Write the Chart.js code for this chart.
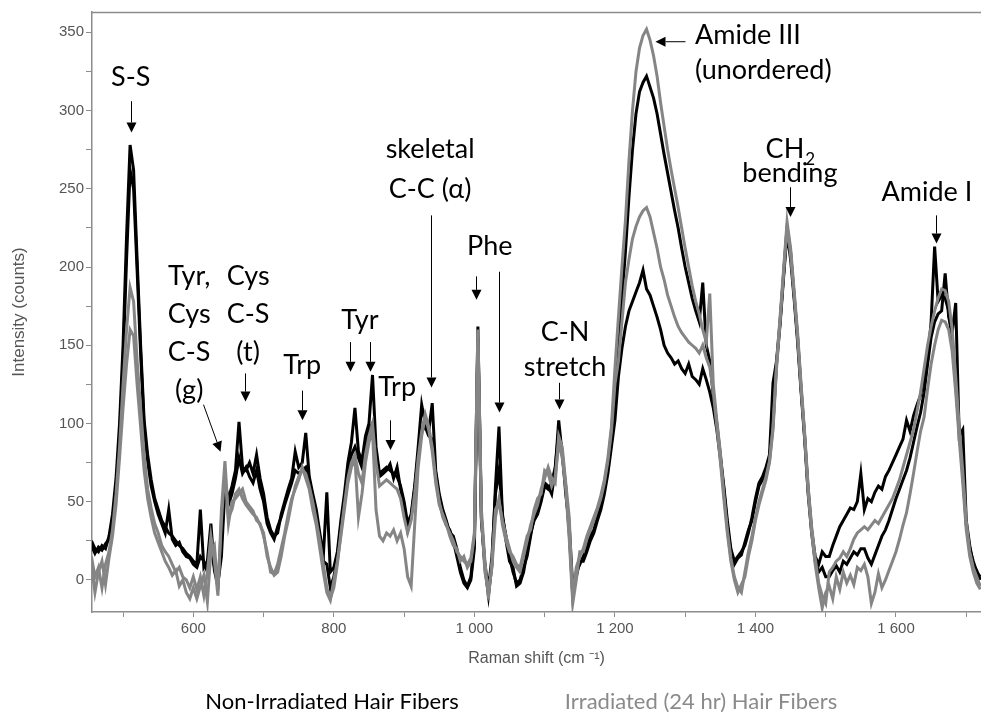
<!DOCTYPE html>
<html>
<head>
<meta charset="utf-8">
<title>Raman spectra of hair fibers</title>
<script src="https://cdn.jsdelivr.net/npm/chart.js@4.4.1/dist/chart.umd.min.js"></script>
<style>
  html, body { margin: 0; padding: 0; background: #fff; }
</style>
</head>
<body>
<canvas id="raman" width="981" height="713"></canvas>
<script>
// Raman shift grid (cm-1): one reading every 5 cm-1 from 455 to 1720
const shiftStart = 455
const shiftStep = 5
const shiftCount = 254

// intensities (counts), one row = 50 cm-1
const nonIrradiatedA = [
  25, 20, 18, 22, 20, 28, 42, 65, 100, 150,
  220, 278, 262, 205, 150, 102, 80, 64, 52, 45,
  38, 34, 30, 28, 25, 22, 20, 17, 15, 12,
  10, 45, 8, 12, 36, 6, -4, 25, 62, 52,
  60, 70, 101, 72, 70, 75, 68, 80, 65, 55,
  40, 32, 28, 30, 42, 50, 58, 65, 82, 72,
  75, 94, 66, 55, 45, 30, 15, 56, 5, 8,
  18, 38, 55, 75, 88, 110, 82, 76, 92, 100,
  131, 85, 68, 70, 72, 70, 68, 66, 60, 50,
  36, 42, 60, 85, 112, 100, 95, 113, 70, 55,
  45, 38, 30, 28, 20, 8, 0, -4, 2, 25,
  162, 40, 8, -10, 10, 60, 98, 40, 28, 15,
  5, -2, 0, 8, 15, 28, 40, 45, 52, 62,
  60, 55, 70, 102, 80, 60, 30, -10, 5, 10,
  15, 20, 28, 32, 40, 48, 58, 72, 88, 108,
  150, 180, 210, 245, 275, 298, 312, 318, 322, 315,
  308, 298, 285, 272, 260, 248, 236, 225, 212, 200,
  190, 180, 172, 165, 190, 150, 140, 118, 100, 80,
  60, 38, 20, 12, 15, 18, 22, 30, 40, 52,
  62, 66, 72, 80, 126, 140, 165, 195, 225, 210,
  182, 155, 122, 92, 58, 32, 15, 10, 18, 15,
  15, 22, 28, 34, 38, 42, 46, 45, 50, 68,
  45, 52, 50, 56, 60, 58, 66, 70, 75, 80,
  85, 90, 102, 95, 105, 112, 118, 130, 140, 165,
  213, 178, 182, 180, 172, 152, 125, 95, 68, 35,
  20, 12, 5, 2
]
const nonIrradiatedB = [
  22, 17, 21, 19, 23, 26, 38, 58, 92, 140,
  205, 262, 250, 198, 145, 98, 76, 60, 50, 42,
  36, 30, 45, 26, 22, 24, 18, 15, 14, 10,
  8, 15, 12, 5, 20, 8, -2, 15, 58, 48,
  55, 65, 78, 68, 72, 66, 62, 70, 58, 50,
  36, 30, 26, 34, 40, 48, 55, 62, 70, 68,
  70, 72, 64, 52, 40, 28, 12, 10, -5, 2,
  15, 35, 50, 70, 80, 85, 78, 72, 85, 95,
  100, 80, 66, 68, 70, 74, 65, 72, 58, 48,
  32, 40, 58, 80, 95, 98, 92, 90, 68, 52,
  42, 35, 32, 25, 15, 5, -2, -5, 0, 20,
  155, 38, 10, -6, 15, 55, 70, 42, 25, 12,
  8, -4, -2, 5, 18, 30, 38, 42, 50, 60,
  58, 62, 72, 95, 82, 55, 35, -5, 2, 12,
  12, 18, 25, 30, 38, 45, 55, 68, 85, 102,
  130, 148, 162, 172, 178, 184, 190, 198, 186, 182,
  175, 168, 160, 150, 145, 142, 138, 140, 135, 132,
  138, 130, 128, 125, 135, 128, 120, 110, 96, 78,
  58, 35, 18, 10, 14, 16, 24, 32, 38, 50,
  60, 64, 70, 78, 100, 138, 163, 193, 222, 205,
  180, 152, 120, 90, 55, 30, 12, 5, 8, 2,
  2, 6, 9, 5, 12, 10, 14, 18, 16, 20,
  20, 14, 10, 16, 22, 28, 32, 38, 45, 52,
  58, 64, 70, 78, 88, 98, 107, 120, 138, 155,
  165, 170, 172, 196, 168, 158, 177, 92, 96, 38,
  22, 10, 6, 0
]
const irradiatedA = [
  15, 2, 8, -5, 10, 18, 32, 55, 85, 125,
  160, 187, 178, 140, 110, 80, 58, 46, 36, 30,
  22, 18, 15, 10, 5, 8, 2, 0, -5, 2,
  -6, 2, -10, 5, 28, 12, -10, 45, 76, 40,
  45, 55, 58, 52, 48, 45, 42, 40, 35, 30,
  15, 8, 3, 5, 15, 28, 38, 50, 60, 66,
  70, 68, 60, 50, 38, 25, 10, -5, -12, -5,
  10, 30, 48, 65, 75, 80, 68, 62, 80, 92,
  100, 75, 60, 62, 64, 62, 60, 58, 52, 40,
  30, 38, 55, 78, 95, 106, 98, 85, 65, 50,
  40, 35, 30, 25, 18, 15, 12, 10, 14, 30,
  160, 45, 12, -12, 12, 45, 50, 38, 28, 20,
  12, 8, 5, 15, 25, 35, 42, 48, 58, 65,
  72, 65, 62, 92, 85, 62, 40, -12, 8, 15,
  20, 28, 34, 40, 46, 54, 64, 78, 98, 135,
  168, 200, 230, 268, 300, 325, 340, 348, 352, 345,
  335, 322, 305, 290, 275, 262, 250, 238, 225, 212,
  200, 188, 178, 170, 160, 152, 183, 125, 102, 82,
  55, 32, 14, 2, -5, -8, 5, 18, 28, 40,
  50, 58, 66, 76, 98, 138, 168, 198, 229, 212,
  185, 158, 125, 94, 60, 34, 14, -2, -10, -15,
  5, 8, 12, 14, 18, 15, 20, 26, 30, 32,
  34, 32, 35, 38, 36, 40, 44, 48, 52, 58,
  64, 72, 80, 88, 96, 108, 120, 135, 150, 162,
  172, 180, 186, 185, 178, 160, 130, 98, 70, 38,
  18, 8, 2, -4
]
const irradiatedB = [
  10, -8, 5, 12, -3, 14, 28, 48, 78, 110,
  138, 160, 156, 125, 98, 70, 52, 40, 30, 24,
  18, 12, 8, 3, 6, -4, 0, -8, -12, -5,
  -12, -4, 3, -14, 18, 22, -6, 38, 70, 36,
  50, 52, 55, 58, 50, 47, 44, 38, 36, 28,
  18, 5, 4, 10, 20, 30, 42, 52, 58, 64,
  72, 65, 58, 45, 35, 20, 5, -8, -13, 0,
  12, 28, 45, 62, 72, 78, 40, 55, 75, 88,
  95, 45, 28, 25, 30, 28, 32, 25, 30, 20,
  2, -4, 35, 72, 92, 104, 96, 82, 62, 48,
  42, 36, 28, 22, 20, 12, 15, 8, 12, 28,
  158, 40, 5, -8, 8, 40, 52, 35, 25, 18,
  15, 10, 8, 18, 28, 32, 45, 52, 55, 70,
  68, 60, 66, 88, 78, 58, 26, -15, 0, 18,
  18, 26, 32, 38, 45, 52, 62, 76, 95, 125,
  140, 165, 190, 205, 218, 226, 232, 236, 238, 232,
  222, 212, 200, 192, 182, 175, 168, 162, 158, 155,
  152, 150, 148, 145, 150, 142, 136, 120, 98, 76,
  52, 30, 12, 0, -8, -3, 2, 15, 25, 38,
  48, 56, 64, 75, 96, 135, 165, 196, 226, 208,
  183, 155, 122, 92, 56, 30, 10, -5, -18, -8,
  -4, -12, 2, -6, 5, -2, 3, -3, 8, 6,
  10, 2, -15, -8, 4, -5, 0, 6, 12, 18,
  26, 35, 43, 55, 68, 82, 95, 104, 122, 138,
  150, 160, 166, 165, 160, 146, 120, 90, 62, 32,
  15, 5, -2, -6
]

// axis ticks
const xTicks = [500, 600, 700, 800, 900, 1000, 1100, 1200, 1300, 1400, 1500, 1600, 1700]
const yTicks = [0, 25, 50, 75, 100, 125, 150, 175, 200, 225, 250, 275, 300, 325, 350]

// band labels: text lines and the data point they are centred on
const notes = [
  { lines: ['S-S'], at: [511, 321] },
  { lines: ['Tyr,', 'Cys', 'C-S', '(g)'], at: [594, 194], gap: 38 },
  { lines: ['Cys', 'C-S', '(t)'], at: [678, 194], gap: 38 },
  { lines: ['Trp'], at: [755, 137] },
  { lines: ['Tyr'], at: [837, 166] },
  { lines: ['Trp'], at: [890, 123] },
  { lines: ['skeletal', 'C-C (α)'], at: [937, 275], gap: 40 },
  { lines: ['Phe'], at: [1022, 213] },
  { lines: ['C-N', 'stretch'], at: [1129, 158], gap: 35 },
  { lines: ['Amide III', '(unordered)'], at: [1314, 348], gap: 35, align: 'left' },
  { lines: ['CH', 'bending'], sub: '2', at: [1449, 275], gap: 24 },
  { lines: ['Amide I'], at: [1644, 248] }
]
// arrows: [from, to] in data units
const arrows = [
  [[511, 306], [511, 286]],
  [[614, 112], [638, 82]],
  [[674, 132], [674, 114]],
  [[755, 121], [755, 102]],
  [[823, 152], [823, 133]],
  [[851, 152], [851, 133]],
  [[880, 102], [880, 83]],
  [[938, 233], [938, 123]],
  [[1002, 194], [1002, 179]],
  [[1035, 197], [1035, 107]],
  [[1120, 126], [1120, 109]],
  [[1300, 344], [1257, 344]],
  [[1449, 251], [1449, 232]],
  [[1657, 233], [1657, 215]]
]

const legendItems = [
  { text: 'Non-Irradiated Hair Fibers', color: '#000', x: 332 },
  { text: 'Irradiated (24 hr) Hair Fibers', color: '#8a8a8a', x: 701 }
]

const GRAY = '#858585'
const AXIS = '#8c8c8c'
const LABEL = '#555'
const NOTE_FONT = '27px Lato'

const shifts = Array.from({ length: shiftCount }, (_, i) => shiftStart + i * shiftStep)
const toPoints = arr => arr.map((v, i) => ({ x: shifts[i], y: v }))

const spaced = v => String(v).replace(/\B(?=(\d{3})+(?!\d))/g, ' ')

function drawArrow(ctx, x0, y0, x1, y1) {
  const ang = Math.atan2(y1 - y0, x1 - x0)
  const len = 10
  const half = 5
  const bx = x1 - len * Math.cos(ang)
  const by = y1 - len * Math.sin(ang)
  ctx.beginPath()
  ctx.moveTo(x0, y0)
  ctx.lineTo(bx, by)
  ctx.stroke()
  ctx.beginPath()
  ctx.moveTo(x1, y1)
  ctx.lineTo(bx + half * Math.sin(ang), by - half * Math.cos(ang))
  ctx.lineTo(bx - half * Math.sin(ang), by + half * Math.cos(ang))
  ctx.closePath()
  ctx.fill()
}

const framePlugin = {
  id: 'frame',
  afterDraw(chart) {
    const { ctx, chartArea } = chart
    ctx.save()
    ctx.strokeStyle = AXIS
    ctx.lineWidth = 1.5
    ctx.beginPath()
    ctx.moveTo(chartArea.left, chartArea.top + 0.5)
    ctx.lineTo(chartArea.right, chartArea.top + 0.5)
    ctx.stroke()
    ctx.restore()
  }
}

const notesPlugin = {
  id: 'notes',
  afterDraw(chart) {
    const { ctx } = chart
    const { x, y } = chart.scales
    ctx.save()
    ctx.fillStyle = '#000'
    ctx.strokeStyle = '#000'
    ctx.lineWidth = 1
    ctx.textBaseline = 'middle'
    ctx.font = NOTE_FONT
    notes.forEach(n => {
      const px = x.getPixelForValue(n.at[0])
      const py = y.getPixelForValue(n.at[1])
      n.lines.forEach((line, i) => {
        const ly = py + i * (n.gap || 38)
        if (n.sub && i === 0) {
          ctx.font = '17px Lato'
          const sw = ctx.measureText(n.sub).width
          ctx.font = NOTE_FONT
          const w = ctx.measureText(line).width
          const left = px - (w + sw) / 2
          ctx.textAlign = 'left'
          ctx.fillText(line, left, ly)
          ctx.font = '17px Lato'
          ctx.fillText(n.sub, left + w + 1, ly + 10)
          ctx.font = NOTE_FONT
        } else {
          ctx.textAlign = n.align || 'center'
          ctx.fillText(line, px, ly)
        }
      })
    })
    arrows.forEach(([a, b]) => {
      const x0 = Math.round(x.getPixelForValue(a[0])) + 0.5
      const x1 = Math.round(x.getPixelForValue(b[0])) + 0.5
      drawArrow(ctx, x0, y.getPixelForValue(a[1]), x1, y.getPixelForValue(b[1]))
    })
    ctx.restore()
  }
}

const legendTextPlugin = {
  id: 'legendText',
  afterDraw(chart) {
    const { ctx } = chart
    ctx.save()
    ctx.font = '22px Lato'
    ctx.textAlign = 'center'
    ctx.textBaseline = 'middle'
    legendItems.forEach(item => {
      ctx.fillStyle = item.color
      ctx.fillText(item.text, item.x, 702)
    })
    ctx.restore()
  }
}

function lineSet(label, values, color) {
  return {
    label,
    data: toPoints(values),
    borderColor: color,
    backgroundColor: color,
    borderWidth: 3,
    pointRadius: 0,
    tension: 0,
    fill: false
  }
}

function build() {
  new Chart(document.getElementById('raman'), {
    type: 'line',
    data: {
      datasets: [
        lineSet('Irradiated (24 hr) Hair Fibers', irradiatedA, GRAY),
        lineSet('Irradiated (24 hr) Hair Fibers', irradiatedB, GRAY),
        lineSet('Non-Irradiated Hair Fibers', nonIrradiatedA, '#000'),
        lineSet('Non-Irradiated Hair Fibers', nonIrradiatedB, '#000')
      ]
    },
    options: {
      responsive: false,
      animation: false,
      layout: { padding: { top: 12, right: 0, bottom: 45, left: 0 } },
      plugins: {
        legend: { display: false },
        tooltip: { enabled: false }
      },
      scales: {
        x: {
          type: 'linear',
          min: 455.8,
          max: 1721,
          afterFit: s => { s.height = 56 },
          afterBuildTicks: s => { s.ticks = xTicks.map(v => ({ value: v })) },
          grid: { drawOnChartArea: false, drawTicks: true, tickLength: 5, color: AXIS },
          border: { display: true, color: AXIS, width: 1.5 },
          ticks: {
            autoSkip: false,
            maxRotation: 0,
            padding: 3,
            color: LABEL,
            font: { family: 'Liberation Sans', size: 15 },
            callback: v => (v % 200 === 0 ? spaced(v) : '')
          },
          title: {
            display: true,
            text: 'Raman shift (cm ⁻¹)',
            color: LABEL,
            font: { family: 'Liberation Sans', size: 16 },
            padding: 0
          }
        },
        y: {
          min: -20.5,
          max: 363,
          afterFit: s => { s.width = 92 },
          afterBuildTicks: s => { s.ticks = yTicks.map(v => ({ value: v })) },
          grid: { drawOnChartArea: false, drawTicks: true, tickLength: 6, color: AXIS },
          border: { display: true, color: AXIS, width: 1.5 },
          ticks: {
            autoSkip: false,
            padding: 2,
            color: LABEL,
            font: { family: 'Liberation Sans', size: 15 },
            callback: v => (v % 50 === 0 ? String(v) : '')
          },
          title: {
            display: true,
            text: 'Intensity (counts)',
            color: LABEL,
            font: { family: 'Liberation Sans', size: 17 },
            padding: { top: 9, bottom: 0 }
          }
        }
      }
    },
    plugins: [framePlugin, notesPlugin, legendTextPlugin]
  })
}

Promise.all([
  document.fonts.load(NOTE_FONT),
  document.fonts.load('15px "Liberation Sans"')
]).then(build, build)
</script>
</body>
</html>
